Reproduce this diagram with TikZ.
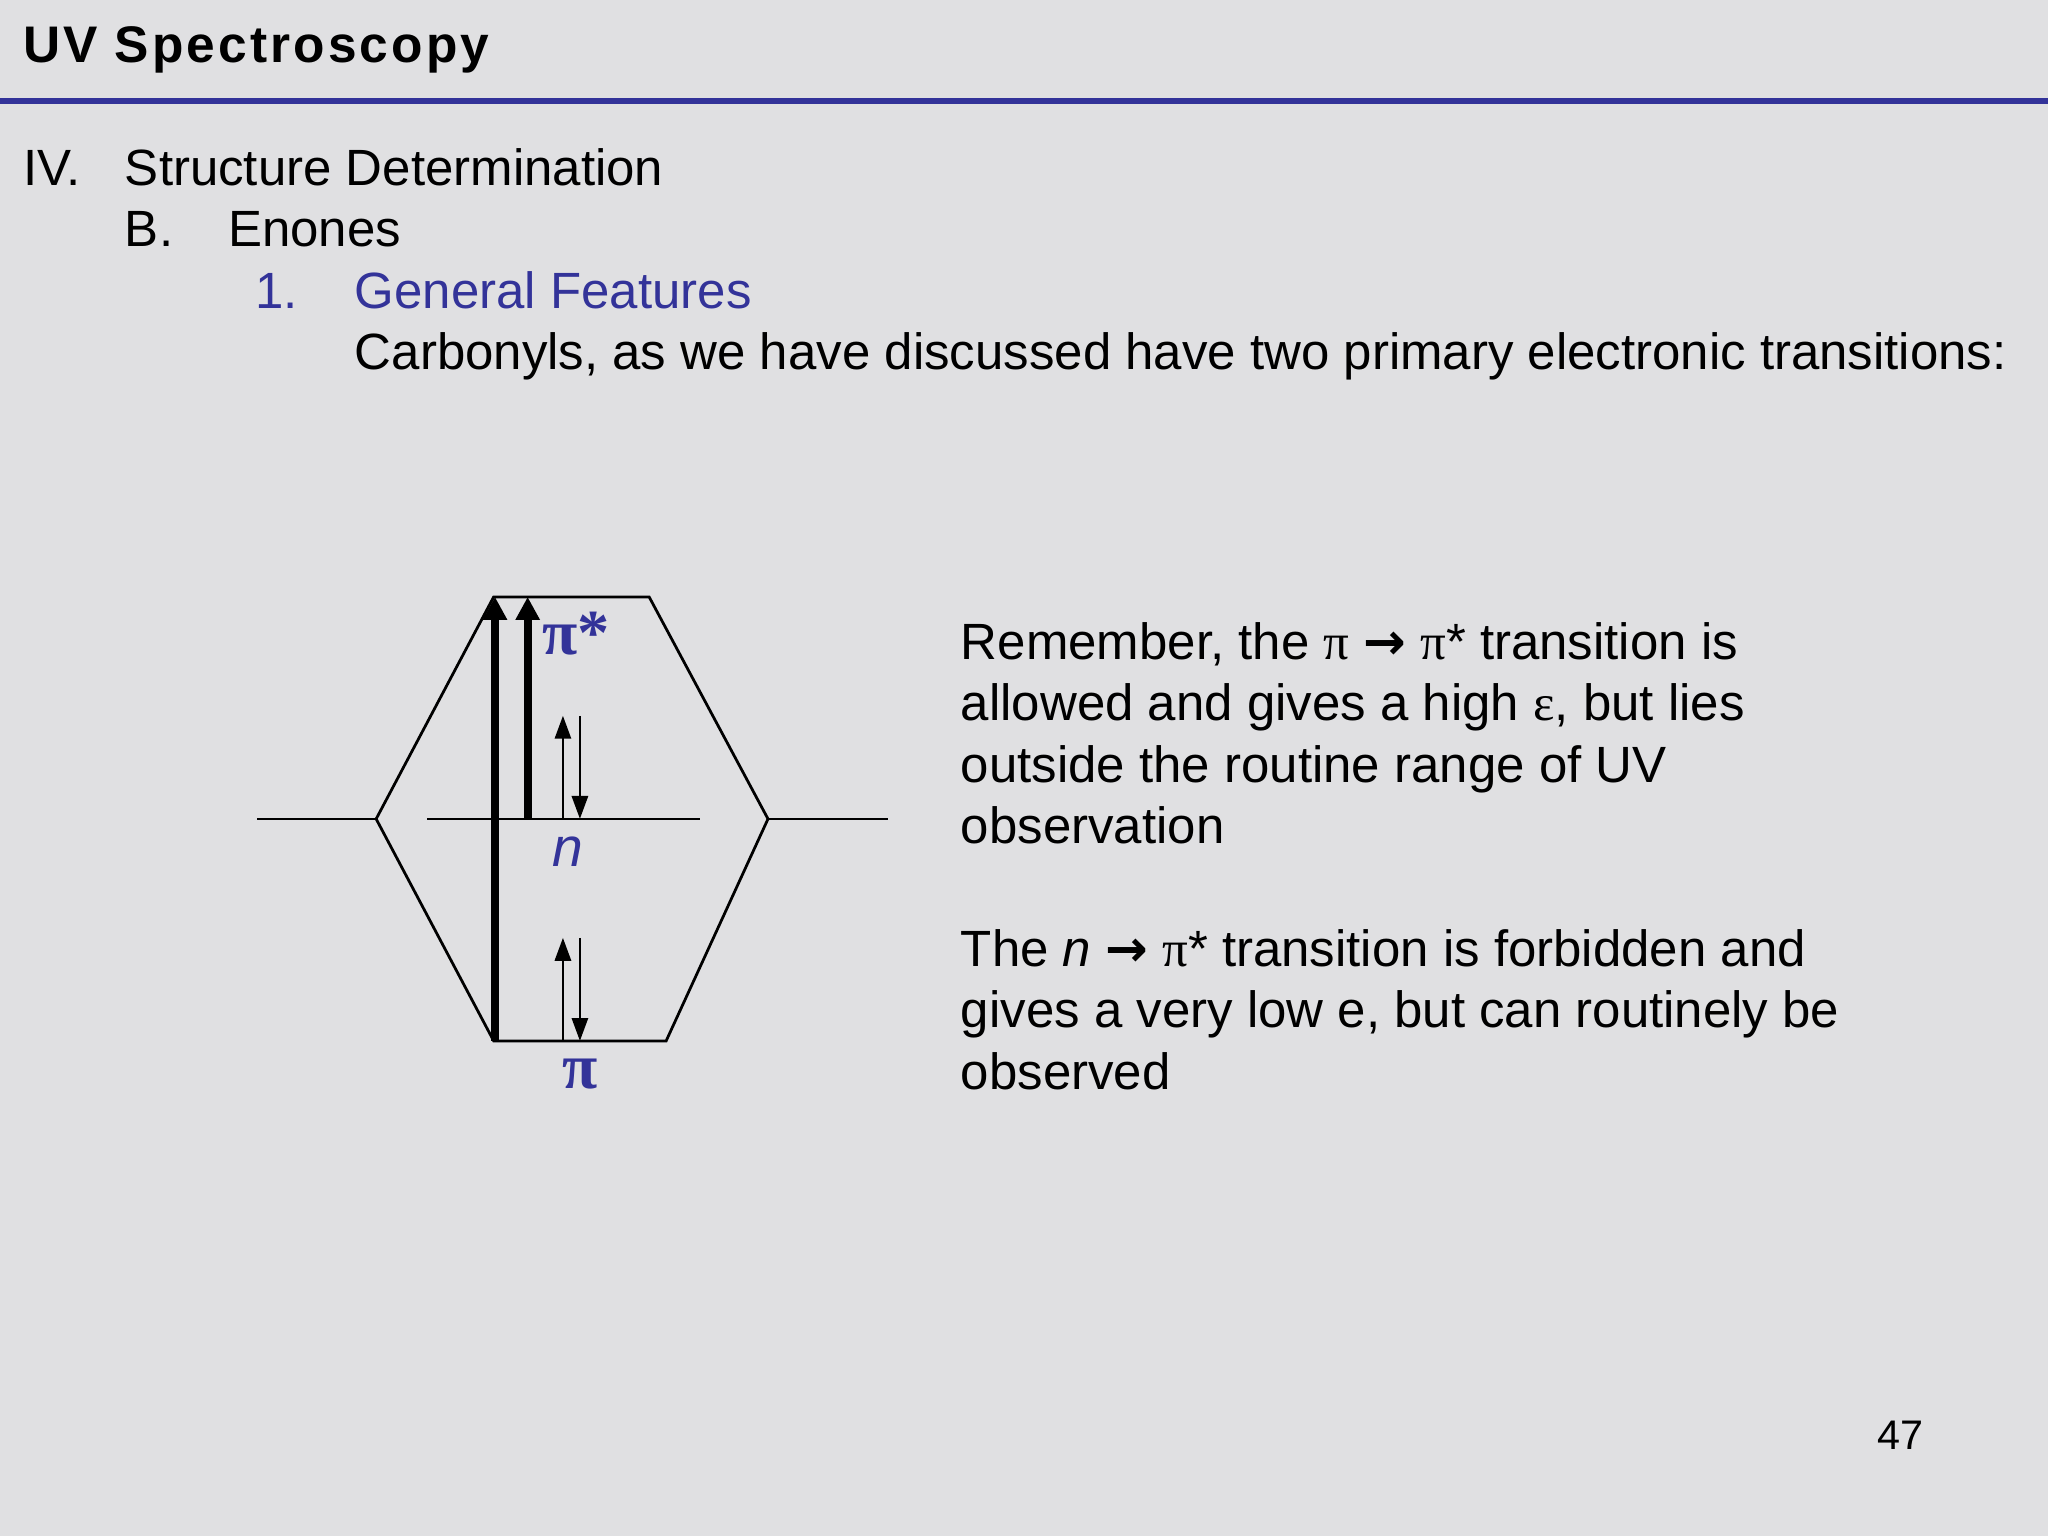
\documentclass[tikz,border=0pt]{standalone}
\usepackage{fontspec}
\setmainfont{Liberation Sans}
\newfontfamily\serifpi{Liberation Serif}
\newfontfamily\arrfont{DejaVu Sans}
\usetikzlibrary{arrows.meta}
\definecolor{bg}{HTML}{E0E0E2}
\definecolor{hdblue}{HTML}{333399}
\newcommand{\rarr}{{\arrfont\bfseries →}}
\tikzset{
  txt/.style={anchor=base west,inner sep=0pt,font=\fontsize{11.1}{13}\selectfont},
  lvl/.style={line width=0.6pt},
  bigarr/.style={line width=1.8pt,-{Triangle[length=5pt,width=5pt]}},
  smarr/.style={line width=0.6pt,-{Triangle[length=5pt,width=3.5pt]}},
}
\begin{document}
\begin{tikzpicture}[x=0.01cm,y=-0.01cm]
\fill[bg] (0,0) rectangle (1568,1176);
\useasboundingbox (0,0) rectangle (1568,1176);
\fill[hdblue] (0,75) rectangle (1568,80);
\node[txt,font=\fontsize{11.2}{13}\selectfont\bfseries\addfontfeature{LetterSpace=6}] (title) at (17,48) {UV\ Spectroscopy};
\node[txt] (iv) at (17,142) {IV.};
\node[txt] (sd) at (95,142) {Structure Determination};
\node[txt] (b) at (95,189) {B.};
\node[txt] (en) at (174,189) {Enones};
\node[txt,text=hdblue] (one) at (195,236) {1.};
\node[txt,text=hdblue] (gf) at (271,236) {General Features};
\node[txt] (carb) at (271,283) {Carbonyls, as we have discussed have two primary electronic transitions:};
% diagram
\coordinate (L1) at (197,627); \coordinate (A) at (288,627);
\coordinate (B) at (378,797); \coordinate (C) at (510,797);
\coordinate (D) at (588,627); \coordinate (E) at (497,457);
\coordinate (F) at (378,457); \coordinate (R1) at (680,627);
\draw[lvl] (A) -- (B) -- (C) -- (D) -- (E) -- (F) -- cycle;
\draw[lvl] (L1) -- (A);
\draw[lvl] (D) -- (R1);
\coordinate (n1) at (327,627); \coordinate (n2) at (536,627);
\draw[lvl] (n1) -- (n2);
\coordinate (p0) at (379,797); \coordinate (p1) at (379,457);
\draw[bigarr] (p0) -- (p1);
\coordinate (q0) at (404,627); \coordinate (q1) at (404,457);
\draw[bigarr] (q0) -- (q1);
\coordinate (u0) at (431,627); \coordinate (u1) at (431,548);
\draw[smarr] (u0) -- (u1);
\coordinate (d0) at (444,548); \coordinate (d1) at (444,627);
\draw[smarr] (d0) -- (d1);
\coordinate (u2) at (431,797); \coordinate (u3) at (431,718);
\draw[smarr] (u2) -- (u3);
\coordinate (d2) at (444,718); \coordinate (d3) at (444,797);
\draw[smarr] (d2) -- (d3);
\node[text=hdblue,font=\fontsize{14}{16}\selectfont\serifpi\bfseries] (pistar) at (441,485) {π*};
\node[text=hdblue,font=\fontsize{12}{14}\selectfont\itshape] (nlab) at (435,652) {n};
\node[text=hdblue,font=\fontsize{14}{16}\selectfont\serifpi\bfseries] (pilab) at (444,822) {π};
% right text
\node[txt] (r1) at (735,505) {Remember, the {\serifpi π} \rarr\ {\serifpi π}* transition is};
\node[txt] (r2) at (735,552) {allowed and gives a high {\serifpi ε}, but lies};
\node[txt] (r3) at (735,599) {outside the routine range of UV};
\node[txt] (r4) at (735,646) {observation};
\node[txt] (s1) at (735,740) {The \textit{n} \rarr\ {\serifpi π}* transition is forbidden and};
\node[txt] (s2) at (735,787) {gives a very low e, but can routinely be};
\node[txt] (s3) at (735,834) {observed};
\node[anchor=base east,inner sep=0pt,font=\fontsize{9}{10}\selectfont] (pg) at (1473,1110) {47};
\end{tikzpicture}
\end{document}
